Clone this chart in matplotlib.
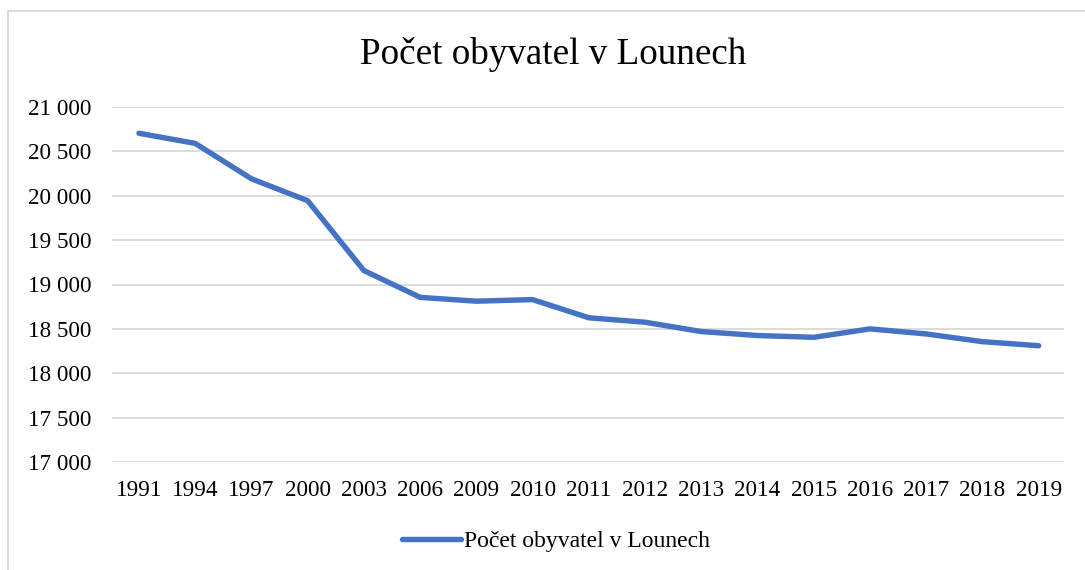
import matplotlib
matplotlib.use("Agg")
import matplotlib.pyplot as plt
import numpy as np
from matplotlib.patches import Rectangle
from matplotlib.ticker import FuncFormatter, MultipleLocator

plt.rcParams["font.family"] = ["Liberation Serif", "DejaVu Serif"]

# data
years = ["1991", "1994", "1997", "2000", "2003", "2006", "2009", "2010", "2011",
         "2012", "2013", "2014", "2015", "2016", "2017", "2018", "2019"]
population = [20704, 20590, 20191, 19944, 19157, 18855, 18812, 18830, 18625,
              18575, 18470, 18425, 18405, 18500, 18443, 18356, 18310]

label = "Počet obyvatel v Lounech"
blue = "#4472C4"
grid_grey = "#d9d9d9"

fig = plt.figure(figsize=(10.85, 5.7), dpi=100)
ax = fig.add_axes([112 / 1085, 1 - 462 / 570, 952 / 1085, 355 / 570])

x = np.arange(len(years))
line, = ax.plot(x, population, color=blue, linewidth=3.9,
                solid_capstyle="round", solid_joinstyle="round", label=label)

ax.set_xlim(-0.48, len(years) - 0.55)
ax.set_ylim(17000, 21000)
ax.set_xticks(x)
ax.set_xticklabels(years)
ax.yaxis.set_major_locator(MultipleLocator(500))
ax.yaxis.set_major_formatter(FuncFormatter(lambda v, p: f"{int(v):,}".replace(",", " ")))

ax.grid(axis="y", color=grid_grey, linewidth=1.3)
ax.set_axisbelow(True)
for s in ax.spines.values():
    s.set_visible(False)
ax.tick_params(axis="both", length=0, labelsize=16.7)
ax.tick_params(axis="y", pad=15)
ax.tick_params(axis="x", pad=13)

fig.text(553 / 1085, 1 - 54 / 570, label, ha="center", va="center", fontsize=26.7)

fig.legend(handles=[line], loc="center", bbox_to_anchor=(556 / 1085, 1 - 541 / 570),
           frameon=False, fontsize=17, handlelength=2.5, handletextpad=0.1)

# chart area border
fig.patches.append(Rectangle((8 / 1085, -0.1), 1.2, 1.1 - 11 / 570,
                             transform=fig.transFigure, fill=False,
                             edgecolor=grid_grey, linewidth=1.3))

plt.savefig("out.png", dpi=100)
